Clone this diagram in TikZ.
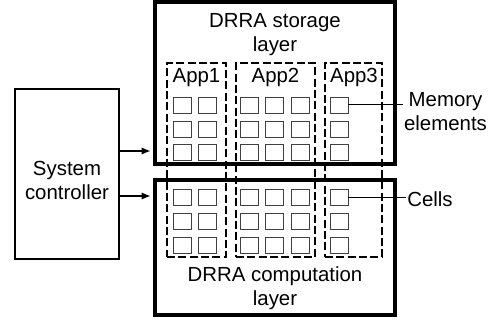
\documentclass[tikz,border=0pt]{standalone}
\usepackage{fontspec}
\setmainfont{Liberation Sans}
\usetikzlibrary{fit,arrows.meta}

\tikzset{
  layerbox/.style={draw, line width=3pt, inner sep=0pt},
  appbox/.style={draw, line width=1.8pt, dash pattern=on 6pt off 2.5pt, inner sep=0pt},
  ctrlbox/.style={draw, line width=1.5pt, inner sep=0pt},
  cell/.style={draw=black!75, line width=0.65pt, minimum width=13.5pt, minimum height=12pt, inner sep=0pt},
  lbl/.style={font=\fontsize{15.3pt}{18pt}\selectfont, inner sep=0.75pt, align=center},
  ctrlarrow/.style={-{Latex[length=7pt,width=5.5pt]}, line width=1.5pt, shorten >=1.5pt},
  pointer/.style={line width=0.75pt},
}

\begin{document}
\begin{tikzpicture}[x=0.75pt, y=-0.75pt]
  \useasboundingbox (0,0) rectangle (498,320);
  % === the two DRRA layers ===
  \node[layerbox, fit={(155,2) (395,164)}] (storage) {};
  \node[layerbox, fit={(155,180) (395,315)}] (compute) {};
  \node[lbl] (storagelbl) at (275,35) {DRRA storage\\layer};
  \node[lbl] (computelbl) at (275,288) {DRRA computation\\layer};
  % === applications (dashed) ===
  \node[appbox, fit={(167,63) (226,257)}] (app1) {};
  \node[appbox, fit={(236,63) (315,257)}] (app2) {};
  \node[appbox, fit={(325,63) (382,257)}] (app3) {};
  \node[lbl, anchor=base] (app1lbl) at (196.5,83) {App1};
  \node[lbl, anchor=base] (app2lbl) at (275.5,83) {App2};
  \node[lbl, anchor=base] (app3lbl) at (354,83) {App3};
  % memory elements (top) and cells (bottom)
  \foreach \x [count=\i] in {182,207,249,274,300,339} {
    \foreach \y [count=\j] in {105,129,152}
      \node[cell] (m-\i-\j) at (\x,\y) {};
    \foreach \y [count=\j] in {197,221,245}
      \node[cell] (c-\i-\j) at (\x,\y) {};
  }
  % === system controller ===
  \node[ctrlbox, fit={(15,89) (119,259)}] (ctrl) {};
  \node[lbl] (ctrllbl) at (67,180) {System\\controller};
  \coordinate (upin) at (0,151);
  \coordinate (lowin) at (0,196);
  \draw[ctrlarrow] (ctrl.east |- upin) -- (storage.west |- upin);
  \draw[ctrlarrow] (ctrl.east |- lowin) -- (compute.west |- lowin);
  % === legend on the right ===
  \node[lbl] (memlbl) at (445.5,111.5) {Memory\\elements};
  \node[lbl, anchor=west] (cellslbl) at (406,199.5) {Cells};
  \draw[pointer] (m-6-1.east) -- (m-6-1.east -| memlbl.west);
  \draw[pointer] (c-6-1.east) -- (c-6-1.east -| cellslbl.west);
\end{tikzpicture}
\end{document}
